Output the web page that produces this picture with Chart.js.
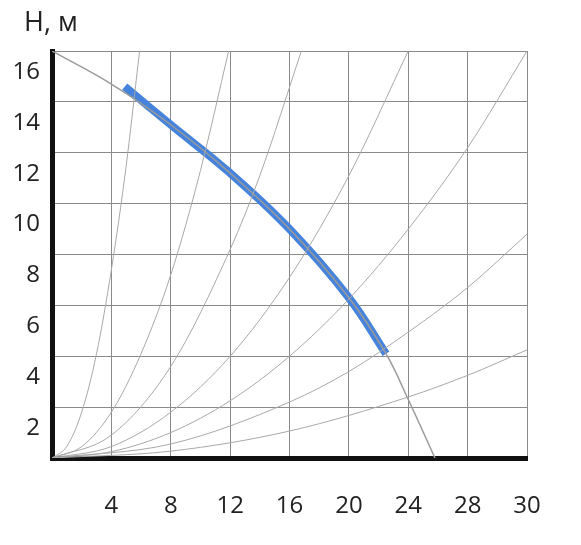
<!DOCTYPE html>
<html><head><meta charset="utf-8">
<script src="https://cdn.jsdelivr.net/npm/chart.js@4"></script>
<style>body{margin:0;background:#fff;}#wrap{position:relative;width:581px;height:545px;}
#t{position:absolute;left:24px;top:2px;font:27px "Open Sans",sans-serif;color:#222;}</style>
</head><body><div id="wrap"><div id="t">H, м</div><canvas id="c" width="581" height="545"></canvas></div>
<script>
const xTicks=[0,4,8,12,16,20,24,28,32];
const xTickLabels=['','4','8','12','16','20','24','28','30'];
const pumpX=[0,4,8,12,16,20,22.5,24,25.8];
const pumpH=[16,14.7,13.1,11.2,9.0,6.3,4.1,2.3,0];
const workX=[4.9,8,12,16,20,22.5];
const workH=[14.6,13.1,11.2,9.0,6.3,4.1];
const sys1X=[0,1,2,3,4,5,5.9],sys1H=[0,0.46,1.8,4.1,7.4,11.5,16];
const sys2X=[0,2,4,6,8,10,11.9],sys2H=[0,0.45,1.8,4.1,7.2,11.3,16];
const sys3X=[0,4,8,12,14,16.8],sys3H=[0,0.9,3.6,8.2,11.1,16];
const sys4X=[0,4,8,12,16,20,24],sys4H=[0,0.45,1.8,4,7.1,11.1,16];
const sys5X=[0,4,8,12,16,20,24,28,32],sys5H=[0,0.25,1,2.25,4,6.25,9,12.2,16];
const sys6X=[0,8,16,20,24,28,32],sys6H=[0,0.55,2.2,3.4,4.95,6.7,8.8];
const sys7X=[0,8,16,24,28,32],sys7H=[0,0.27,1.06,2.4,3.25,4.25];
const pts=(xs,ys)=>xs.map((x,i)=>({x,y:ys[i]}));
const sys=[[sys1X,sys1H],[sys2X,sys2H],[sys3X,sys3H],[sys4X,sys4H],[sys5X,sys5H],[sys6X,sys6H],[sys7X,sys7H]];
const ds=sys.map(([a,b])=>({data:pts(a,b),borderColor:'#a8a8a8',borderWidth:1,pointRadius:0,showLine:true,cubicInterpolationMode:'monotone'}));
ds.push({data:pts(pumpX,pumpH),borderColor:'#9a9a9a',borderWidth:1.5,pointRadius:0,showLine:true,tension:0.4});
ds.push({data:pts(workX,workH),borderColor:'#4583dc',borderWidth:8,pointRadius:0,showLine:true,tension:0.4,borderCapStyle:'butt'});
const F={family:'"Open Sans",sans-serif',size:24};
new Chart(document.getElementById('c'),{type:'scatter',data:{datasets:ds},
options:{responsive:false,animation:false,events:[],layout:{padding:{top:51,right:54,left:0,bottom:0}},
plugins:{legend:{display:false},tooltip:{enabled:false}},
scales:{
x:{type:'linear',min:0,max:32,afterBuildTicks:s=>{s.ticks=xTicks.map(v=>({value:v}));},
 ticks:{callback:(v)=>xTickLabels[xTicks.indexOf(v)],color:'#222',font:F,padding:34,maxRotation:0},
 grid:{color:'#8a8a8a',lineWidth:1,drawTicks:false},border:{color:'#111',width:5},afterFit:s=>{s.height=87;}},
y:{type:'linear',min:0,max:16,ticks:{stepSize:2,callback:v=>v===0?'':v,color:'#222',font:F,padding:12,labelOffset:21},
 grid:{color:'#8a8a8a',lineWidth:1,drawTicks:false},border:{color:'#111',width:5},afterFit:s=>{s.width=52;}}
}}});
</script></body></html>
